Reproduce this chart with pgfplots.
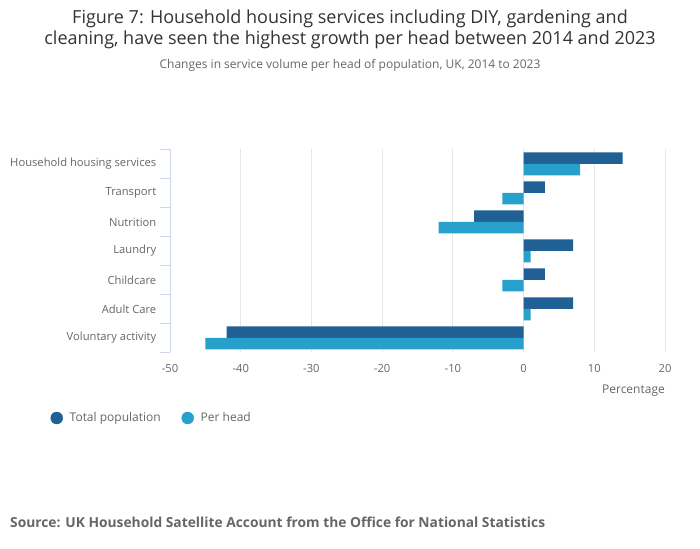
\documentclass[border=0pt]{standalone}
\usepackage{fontspec}
\setmainfont{Open Sans}
\usepackage{pgfplots}
\pgfplotsset{compat=1.18}
\definecolor{tot}{HTML}{206095}
\definecolor{ph}{HTML}{27A0CC}
\definecolor{axisc}{HTML}{CCD6EB}
\definecolor{gridc}{HTML}{E6E6E6}
\definecolor{txt}{HTML}{666666}
\definecolor{ttl}{HTML}{333333}
\begin{document}
\begin{tikzpicture}[x=1bp,y=1bp]
\useasboundingbox (0,0) rectangle (700,549);
\node[anchor=center, text=ttl, font=\fontsize{18bp}{21bp}\selectfont, align=center] at (350,520) {Figure 7: Household housing services including DIY, gardening and\\cleaning, have seen the highest growth per head between 2014 and 2023};
\node[text=txt, font=\fontsize{12bp}{14bp}\selectfont] at (350,484) {Changes in service volume per head of population, UK, 2014 to 2023};
\node[anchor=west, inner sep=0pt, text=txt, font=\fontsize{13.8bp}{16bp}\selectfont\bfseries] at (10,27) {Source: UK Household Satellite Account from the Office for National Statistics};
\begin{axis}[
  at={(170bp,196.5bp)}, anchor=south west, scale only axis,
  width=495bp, height=203bp,
  xmin=-50, xmax=20, ymin=0.5, ymax=7.5,
  bar width=11.5bp,
  axis y line*=left, axis x line*=bottom,
  x axis line style={draw=none},
  y axis line style={draw=axisc, line width=1bp},
  xtick={-50,-40,-30,-20,-10,0,10,20},
  xticklabels={-50,-40,-30,-20,-10,0,10,20},
  xmajorgrids, grid style={draw=gridc, line width=1bp},
  every major x tick/.append style={draw=none},
  ytick={1,2,3,4,5,6,7},
  yticklabels={Voluntary activity, Adult Care, Childcare, Laundry, Nutrition, Transport, Household housing services},
  minor ytick={0.5,1.5,2.5,3.5,4.5,5.5,6.5,7.5},
  every major y tick/.append style={draw=none},
  every minor y tick/.append style={draw=axisc, line width=1bp},
  minor tick length=10bp, tick align=outside,
  ticklabel style={font=\fontsize{11.2bp}{13bp}\selectfont, text=txt},
  yticklabel style={xshift=-6bp},
  xticklabel style={yshift=-4bp},
  xlabel={Percentage},
  xlabel style={at={(rel axis cs:1,0)}, anchor=east, inner sep=0pt, yshift=-38.5bp, font=\fontsize{12bp}{14bp}\selectfont, text=txt},
  legend style={draw=none, fill=none, inner sep=0pt, at={(-0.2414,-0.3227)}, anchor=west,
    font=\fontsize{12bp}{14bp}\selectfont, text=txt,
    /tikz/every odd column/.append style={column sep=5bp},
    /tikz/every even column/.append style={column sep=19bp}},
  legend columns=2,
]
\addlegendimage{only marks, mark=*, mark size=6bp, color=tot}
\addlegendentry{Total population}
\addlegendimage{only marks, mark=*, mark size=6bp, color=ph}
\addlegendentry{Per head}
\addplot[xbar, draw=none, fill=tot, bar shift=5.75bp, forget plot] coordinates {(14,7) (3,6) (-7,5) (7,4) (3,3) (7,2) (-42,1)};
\addplot[xbar, draw=none, fill=ph, bar shift=-5.75bp, forget plot] coordinates {(8,7) (-3,6) (-12,5) (1,4) (-3,3) (1,2) (-45,1)};
\end{axis}
\end{tikzpicture}
\end{document}
